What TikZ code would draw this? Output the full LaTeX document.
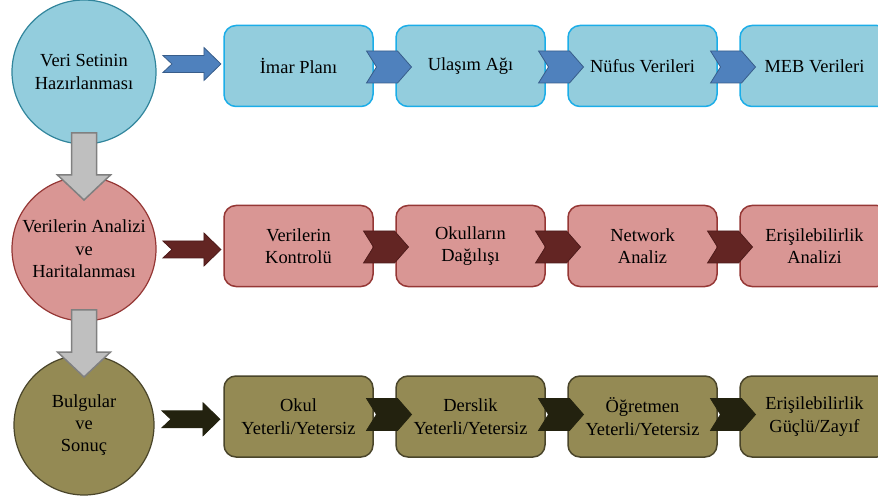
\documentclass[tikz,border=0pt]{standalone}
\usepackage{fontspec}
\setmainfont{Liberation Serif}
\usetikzlibrary{calc}
\definecolor{bluefill}{HTML}{93CDDD}
\definecolor{bluecirc}{HTML}{31859C}
\definecolor{bluebox}{HTML}{1BADE8}
\definecolor{bluearr}{HTML}{4F81BD}
\definecolor{bluearrd}{HTML}{385D8A}
\definecolor{redfill}{HTML}{D99694}
\definecolor{redline}{HTML}{953735}
\definecolor{redarr}{HTML}{632523}
\definecolor{redarrd}{HTML}{4F1C1B}
\definecolor{olfill}{HTML}{948A54}
\definecolor{olline}{HTML}{4A452A}
\definecolor{olarr}{HTML}{23220F}
\definecolor{grayfill}{HTML}{BFBFBF}
\definecolor{grayline}{HTML}{808080}
\tikzset{
  txt/.style={font=\fontsize{18.5}{22.5}\selectfont, align=center, text=black},
  circ/.style={txt, circle, line width=1.2bp, inner sep=0pt},
  stepbox/.style={txt, rectangle, rounded corners=12bp, minimum width=149bp, minimum height=81bp, inner sep=0pt, line width=1.5bp},
  chev/.pic={\path[pic actions] (-18,-16) -- (13,-16) -- (27,0) -- (13,16) -- (-18,16) -- (-8,0) -- cycle;},
  bigarr/.pic={\path[pic actions] (-29,-8.5) -- (12,-8.5) -- (12,-16.5) -- (29,0) -- (12,16.5) -- (12,8.5) -- (-29,8.5) -- (-20,0) -- cycle;},
  downarr/.pic={\path[pic actions] (-12.5,0) -- (12.5,0) -- (12.5,42) -- (26.5,42) -- (0,67) -- (-26.5,42) -- (-12.5,42) -- cycle;},
  bluearrow/.style={fill=bluearr, draw=bluearrd, line width=0.8bp, line join=miter},
  redarrow/.style={fill=redarr, draw=redarrd, line width=0.8bp, line join=miter},
  olarrow/.style={fill=olarr, draw=olarr, line width=0.8bp, line join=miter},
  grayarrow/.style={fill=grayfill, draw=grayline, line width=1.5bp, line join=miter},
}
\begin{document}
\begin{tikzpicture}[x=1bp,y=-1bp]
\useasboundingbox (0,0) rectangle (878,500);
% circles
\node[circ, minimum size=144bp, fill=bluefill, draw=bluecirc] (c1) at (84,72) {Veri Setinin\\Hazırlanması};
\node[circ, minimum size=144bp, fill=redfill, draw=redline] (c2) at (84,249) {Verilerin Analizi\\ve\\Haritalanması};
\node[circ, minimum size=140bp, fill=olfill, draw=olline] (c3) at (84,425) {Bulgular\\ve\\Sonuç};
% row 1 boxes
\node[stepbox, fill=bluefill, draw=bluebox] (b11) at (298.5,66) {İmar Planı};
\node[stepbox, fill=bluefill, draw=bluebox] (b12) at (470.5,66) {Ulaşım Ağı};
\node[stepbox, fill=bluefill, draw=bluebox] (b13) at (642.5,66) {Nüfus Verileri};
\node[stepbox, fill=bluefill, draw=bluebox] (b14) at (814.5,66) {MEB Verileri};
% row 2 boxes
\node[stepbox, fill=redfill, draw=redline] (b21) at (298.5,246) {Verilerin\\Kontrolü};
\node[stepbox, fill=redfill, draw=redline] (b22) at (470.5,246) {Okulların\\Dağılışı};
\node[stepbox, fill=redfill, draw=redline] (b23) at (642.5,246) {Network\\Analiz};
\node[stepbox, fill=redfill, draw=redline] (b24) at (814.5,246) {Erişilebilirlik\\Analizi};
% row 3 boxes
\node[stepbox, fill=olfill, draw=olline] (b31) at (298.5,416.5) {Okul\\Yeterli/Yetersiz};
\node[stepbox, fill=olfill, draw=olline] (b32) at (470.5,416.5) {Derslik\\Yeterli/Yetersiz};
\node[stepbox, fill=olfill, draw=olline] (b33) at (642.5,416.5) {Öğretmen\\Yeterli/Yetersiz};
\node[stepbox, fill=olfill, draw=olline] (b34) at (814.5,416.5) {Erişilebilirlik\\Güçlü/Zayıf};
% arrows from circles to first boxes
\pic[bluearrow] at ($(c1.east)!0.5!(b11.west)+(2,-5)$) {bigarr};
\pic[redarrow] at ($(c2.east)!0.5!(b21.west)+(2,2)$) {bigarr};
\pic[olarrow] at ($(c3.east)!0.5!(b31.west)+(2,-1.5)$) {bigarr};
% chevrons row 1
\pic[bluearrow] at ($(b11.east)!0.5!(b12.west)+(0,1)$) {chev};
\pic[bluearrow] at ($(b12.east)!0.5!(b13.west)+(0,1)$) {chev};
\pic[bluearrow] at ($(b13.east)!0.5!(b14.west)+(0,1)$) {chev};
% chevrons row 2
\pic[redarrow] at ($(b21.east)!0.5!(b22.west)+(-3,1)$) {chev};
\pic[redarrow] at ($(b22.east)!0.5!(b23.west)+(-3,1)$) {chev};
\pic[redarrow] at ($(b23.east)!0.5!(b24.west)+(-3,1)$) {chev};
% chevrons row 3
\pic[olarrow] at ($(b31.east)!0.5!(b32.west)+(0,-2)$) {chev};
\pic[olarrow] at ($(b32.east)!0.5!(b33.west)+(0,-2)$) {chev};
\pic[olarrow] at ($(b33.east)!0.5!(b34.west)+(0,-2)$) {chev};
% gray down arrows between circles
\pic[grayarrow] at ($(c1.center)+(0,61)$) {downarr};
\pic[grayarrow] at ($(c2.center)+(0,61)$) {downarr};
\end{tikzpicture}
\end{document}
